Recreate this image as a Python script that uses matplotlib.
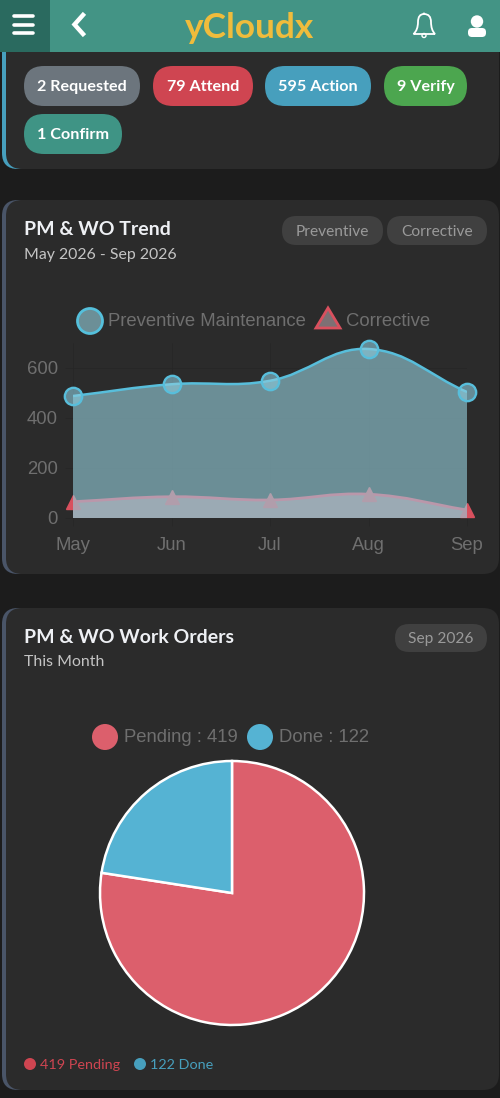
import numpy as np
import matplotlib
matplotlib.use('Agg')
import matplotlib.pyplot as plt
from matplotlib.patches import FancyBboxPatch, Circle, PathPatch, Polygon
from matplotlib.path import Path

months = ['May', 'Jun', 'Jul', 'Aug', 'Sep']
preventive = [488, 535, 549, 676, 504]
corrective = [65, 85, 72, 95, 32]
yticks = [0, 200, 400, 600]

pie_labels = ['Pending', 'Done']
pie_values = [419, 122]

status_labels = ['2 Requested', '79 Attend', '595 Action', '9 Verify', '1 Confirm']
status_colors = ['#6c757d', '#cf4551', '#479fbd', '#4ca64f', '#3f9485']

BG = '#1c1c1c'
CARD = '#2b2b2b'
GREY = '#6f6f6f'
RED = '#dc5f6c'
BLUE = '#55b3d3'
W, H = 500, 1098


def pill(ax, x0, y0, x1, y1, color, z=3):
    r = (y1 - y0) / 2
    ax.add_patch(FancyBboxPatch((x0 + r, y0 + r), x1 - x0 - 2 * r, 0,
                                boxstyle='round,pad=%f,rounding_size=%f' % (r, r),
                                fc=color, ec='none', zorder=z))


def card(ax, y0, y1, accent):
    ax.add_patch(FancyBboxPatch((16, y0 + 14), 300, y1 - y0 - 28,
                                boxstyle='round,pad=14,rounding_size=16', fc=accent, ec='none', zorder=1))
    ax.add_patch(FancyBboxPatch((20, y0 + 14), 465, y1 - y0 - 28,
                                boxstyle='round,pad=14,rounding_size=16', fc=CARD, ec='none', zorder=2))


def spline(xy, t=0.4):
    # same control points as a chart.js line with tension
    n = len(xy)
    ctrl = []
    for i in range(n):
        prev = xy[max(i - 1, 0)]
        cur = xy[i]
        nxt = xy[min(i + 1, n - 1)]
        d1 = np.hypot(*(cur - prev))
        d2 = np.hypot(*(nxt - cur))
        s = d1 + d2
        ctrl.append((cur - t * d1 / s * (nxt - prev), cur + t * d2 / s * (nxt - prev)))
    verts = [xy[0]]
    codes = [Path.MOVETO]
    for i in range(n - 1):
        verts += [ctrl[i][1], ctrl[i + 1][0], xy[i + 1]]
        codes += [Path.CURVE4] * 3
    return verts, codes


def curve_patches(ax, values):
    pts = ax.transData.transform(np.column_stack([np.arange(len(values)), values]))
    verts, codes = spline(pts)
    verts = [ax.transData.inverted().transform(v) for v in verts]
    line = Path(verts, codes)
    area = Path(verts + [(len(values) - 1, 0), (0, 0), (0, 0)],
                codes + [Path.LINETO, Path.LINETO, Path.CLOSEPOLY])
    return line, area


fig = plt.figure(figsize=(W / 100, H / 100), dpi=100, facecolor=BG)
bg = fig.add_axes([0, 0, 1, 1])
bg.set_xlim(0, W)
bg.set_ylim(H, 0)
bg.axis('off')

# cards
card(bg, 30, 169, '#479fbd')
card(bg, 200, 574, '#4a5568')
card(bg, 608, 1090, '#4a5568')

# header
bg.fill_between([0, W], 0, 52, color='#439485', zorder=5, lw=0)
bg.fill_between([0, 50], 0, 52, color='#2a6a5f', zorder=6, lw=0)
for y in [16, 25, 33]:
    bg.plot([14, 33], [y, y], color='white', lw=2.6, solid_capstyle='round', zorder=7)
bg.plot([83, 74.5, 83], [15, 24.5, 34], color='white', lw=3.2, solid_joinstyle='miter', zorder=7)
bg.text(250, 28, 'yCloudx', color='#f0bc3c', fontsize=25.4, fontweight='bold', family='Lato',
        ha='center', va='center', zorder=7)
bell = Path([(424, 14), (418, 14), (418, 22), (418, 30), (413.5, 34), (435, 34), (431, 30), (431, 22), (431, 14), (424, 14)],
            [Path.MOVETO, Path.CURVE3, Path.CURVE3, Path.CURVE3, Path.CURVE3, Path.LINETO,
             Path.CURVE3, Path.CURVE3, Path.CURVE3, Path.CURVE3])
bg.add_patch(PathPatch(bell, fc='none', ec='white', lw=1.3, zorder=7))
bg.add_patch(Circle((424, 35.5), 2, fc='none', ec='white', lw=1, zorder=7))
bg.add_patch(Circle((424, 13.5), 1, fc='white', ec='none', zorder=7))
bg.add_patch(Circle((477, 21.5), 6.2, fc='white', ec='none', zorder=7))
bg.add_patch(FancyBboxPatch((472, 32), 10, 1, boxstyle='round,pad=4,rounding_size=4', fc='white', ec='none', zorder=7))

# status pills
pill_x = [(24, 140, 66, 106), (153, 253, 66, 106), (265, 371, 66, 106), (384, 467, 66, 106), (24, 122, 114, 154)]
for label, color, (x0, x1, y0, y1) in zip(status_labels, status_colors, pill_x):
    pill(bg, x0, y0, x1, y1, color)
    bg.text((x0 + x1) / 2, (y0 + y1) / 2 + 1, label, color='white', fontsize=11.6, fontweight='bold',
            family='Lato', ha='center', va='center', zorder=4)

# card titles
bg.text(24, 229.5, 'PM & WO Trend', color='#eef0f4', fontsize=14, fontweight='bold', family='Lato', va='center', zorder=4)
bg.text(24, 255.5, 'May 2026 - Sep 2026', color='#c4c4c4', fontsize=11.4, family='Lato', va='center', zorder=4)
bg.text(24, 637.5, 'PM & WO Work Orders', color='#eef0f4', fontsize=14, fontweight='bold', family='Lato', va='center', zorder=4)
bg.text(24, 661.5, 'This Month', color='#c4c4c4', fontsize=11.4, family='Lato', va='center', zorder=4)

for label, x0, x1, y0, y1 in [('Preventive', 282, 383, 216, 245), ('Corrective', 387, 487, 216, 245), ('Sep 2026', 395, 487, 624, 652)]:
    pill(bg, x0, y0, x1, y1, '#404040')
    bg.text((x0 + x1) / 2, (y0 + y1) / 2 + 1.5, label, color='#9a9a9a', fontsize=11.2, family='Lato',
            ha='center', va='center', zorder=4)

# line chart legend
bg.add_patch(Circle((90, 321), 12.5, fc='#6c8f97', ec='#55c0dc', lw=2, zorder=4))
bg.text(108, 322, 'Preventive Maintenance', color=GREY, fontsize=13.3, family='Liberation Sans', va='center', zorder=4)
bg.add_patch(Polygon([(328, 308), (340, 328), (316, 328)], closed=True, fc='#7d7074', ec='#d9505e', lw=2, zorder=4))
bg.text(346, 322, 'Corrective', color=GREY, fontsize=13.3, family='Liberation Sans', va='center', zorder=4)

# pie legend
bg.add_patch(Circle((105, 737), 13, fc=RED, ec='none', zorder=4))
bg.text(124, 738, '%s : %d' % (pie_labels[0], pie_values[0]), color=GREY, fontsize=13.3, family='Liberation Sans', va='center', zorder=4)
bg.add_patch(Circle((260, 737), 13, fc=BLUE, ec='none', zorder=4))
bg.text(279, 738, '%s : %d' % (pie_labels[1], pie_values[1]), color=GREY, fontsize=13.3, family='Liberation Sans', va='center', zorder=4)

# bottom legend
bg.add_patch(Circle((30, 1064), 6, fc='#cf4551', ec='none', zorder=4))
bg.text(40, 1065, '%d %s' % (pie_values[0], pie_labels[0]), color='#cf4551', fontsize=10.4, family='Lato', va='center', zorder=4)
bg.add_patch(Circle((140, 1064), 6, fc='#479fbd', ec='none', zorder=4))
bg.text(150, 1065, '%d %s' % (pie_values[1], pie_labels[1]), color='#479fbd', fontsize=10.4, family='Lato', va='center', zorder=4)

# line chart
ax = fig.add_axes([73 / W, 1 - 518 / H, (467 - 73) / W, 175 / H], facecolor='none', zorder=5)
ax.set_xlim(0, 4)
ax.set_ylim(0, 700)
ax.set_xticks(range(5))
ax.set_xticklabels(months)
ax.set_yticks(yticks)
for s in ax.spines.values():
    s.set_visible(False)
ax.tick_params(colors='#262626', labelcolor=GREY, labelsize=13.3, length=6, width=0.5)
ax.tick_params(axis='x', pad=8)
ax.tick_params(axis='y', pad=5)
for lab in ax.get_xticklabels() + ax.get_yticklabels():
    lab.set_family('Liberation Sans')
ax.grid(True, color='#262626', lw=0.5)
ax.set_axisbelow(True)

line, area = curve_patches(ax, corrective)
ax.add_patch(PathPatch(area, fc='#a17076', ec='none', zorder=1))
ax.add_patch(PathPatch(line, fc='none', ec='#f0405c', lw=2, zorder=1.1))
ax.plot(range(5), corrective, ls='none', marker='^', ms=10.5, mfc='#d9505e', mec='#d9505e',
        clip_on=False, zorder=1.2)

line, area = curve_patches(ax, preventive)
ax.add_patch(PathPatch(area, fc='#97d2df', alpha=0.6, ec='none', zorder=2))
ax.add_patch(PathPatch(line, fc='none', ec='#58bedb', lw=1.8, zorder=2.1))
ax.plot(range(5), preventive, ls='none', marker='o', ms=12.5, mfc=(0.55, 0.8, 0.87, 0.6), mec='#58bedb', mew=1.7,
        clip_on=False, zorder=2.2)

# pie
ax2 = fig.add_axes([(232 - 134) / W, 1 - (893 + 134) / H, 268 / W, 268 / H], zorder=5)
ax2.pie(pie_values, colors=[RED, BLUE], startangle=90, counterclock=False, radius=132 / 134,
        wedgeprops={'edgecolor': 'white', 'linewidth': 1.8})
ax2.set_xlim(-1, 1)
ax2.set_ylim(-1, 1)

fig.savefig('out.png', dpi=100, facecolor=BG)
